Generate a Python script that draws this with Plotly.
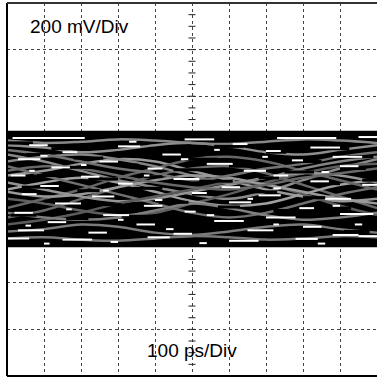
import plotly.graph_objects as go

# Axis: 10 div x 100 ps, 8 div x 200 mV
time_ticks_ps = [0, 100, 200, 300, 400, 500, 600, 700, 800, 900, 1000]
volt_ticks_mv = [-800, -600, -400, -200, 0, 200, 400, 600, 800]
center_ticks_mv = [-750, -700, -650, -600, -550, -500, -450, -400, -350, -300,
                   300, 350, 400, 450, 500, 550, 600, 650, 700, 750]

# Eye band envelope
band_x = [0, 1000, 1000, 0]
band_y = [252, 252, -248, -248]

# Gray waveform traces (mV at each 100 ps)
gray_1 = [150, 120, 80, 40, 10, -20, -40, -10, 40, 90, 130]
gray_2 = [-120, -90, -40, 10, 60, 90, 100, 70, 20, -30, -80]
gray_3 = [60, 80, 110, 130, 120, 80, 40, 0, -30, -50, -40]
gray_4 = [-40, -60, -90, -110, -100, -60, -20, 30, 70, 100, 110]
gray_5 = [190, 180, 160, 170, 190, 200, 185, 160, 150, 170, 190]
gray_6 = [-180, -170, -150, -160, -185, -195, -180, -160, -150, -170, -185]
gray_7 = [0, 30, 50, 30, -10, -50, -70, -60, -20, 20, 40]
gray_8 = [100, 60, 20, -20, -60, -100, -120, -100, -60, -20, 10]
gray_9 = [-80, -40, 0, 50, 90, 130, 140, 120, 80, 40, 0]
gray_10 = [210, 200, 205, 215, 210, 200, 195, 205, 215, 210, 200]
gray_11 = [-210, -205, -215, -220, -210, -200, -205, -215, -210, -200, -205]
gray_12 = [30, 0, -30, -50, -40, -10, 20, 50, 70, 60, 30]
gray_13 = [-150, -130, -100, -60, -30, 0, 30, 20, -20, -70, -110]
gray_14 = [120, 140, 150, 130, 100, 60, 30, 50, 90, 120, 140]
gray_15 = [-10, -30, -20, 10, 40, 60, 50, 20, -10, -40, -60]
gray_16 = [80, 100, 90, 60, 30, 10, 0, 20, 50, 70, 90]
gray_17 = [-100, -120, -130, -120, -90, -60, -80, -110, -130, -120, -100]
gray_18 = [170, 150, 120, 90, 70, 40, 60, 90, 110, 140, 160]
gray_traces = [gray_1, gray_2, gray_3, gray_4, gray_5, gray_6, gray_7, gray_8, gray_9,
               gray_10, gray_11, gray_12, gray_13, gray_14, gray_15, gray_16, gray_17, gray_18]
gray_colors = ["#8a8a8a", "#6a6a6a", "#999999", "#5e5e5e", "#8f8f8f", "#7a7a7a",
               "#a0a0a0", "#707070", "#666666", "#888888", "#777777", "#959595",
               "#5a5a5a", "#858585", "#9a9a9a", "#686868", "#7f7f7f", "#737373"]

# Black streaks breaking the gray traces (start ps, end ps, level mV)
black_x0 = [0, 120, 260, 400, 560, 700, 850, 50, 180, 330, 480, 620, 780, 920, 20, 150,
            300, 450, 600, 750, 900, 80, 220, 370, 520, 680, 830, 960, 40, 190, 340, 500,
            650, 800, 940, 100, 250, 410, 570, 720, 870, 10, 160, 310, 460, 610, 760, 910]
black_x1 = [70, 170, 350, 460, 640, 755, 925, 110, 260, 380, 570, 680, 850, 990, 85, 230,
            355, 540, 660, 830, 970, 140, 300, 420, 610, 735, 900, 1000, 110, 250, 420, 560,
            730, 860, 1000, 170, 310, 490, 630, 800, 930, 80, 220, 390, 520, 690, 820, 980]
black_y = [200, 175, 190, 170, 185, 160, 175, 150, 135, 145, 130, 150, 120, 140, 110, 95,
           105, 85, 100, 75, 90, 60, 45, 55, 35, 50, 25, 40, 10, -5, 5, -20,
           -10, -35, -25, -50, -65, -55, -75, -90, -80, -110, -125, -115, -140, -150, -165, -180]

# White streaks (start ps, end ps, level mV)
white_x0 = [15, 730, 480, 950, 60, 300, 610, 820, 150, 420, 700, 880, 30, 250, 540,
            770, 120, 380, 640, 900, 10, 200, 450, 720, 820, 90, 300, 580, 960, 40,
            230, 500, 680, 860, 130, 370, 600, 790, 20, 260, 480, 700, 900, 110, 350,
            560, 800, 30, 220, 450, 650, 880, 0, 150, 380, 600, 780, 950,
            330, 560, 90, 690, 200, 470, 850, 60, 260, 720, 400, 160, 880, 540, 300,
            720, 50, 430, 940, 280, 520, 840, 100, 650, 370]
white_x1 = [210, 890, 560, 1000, 110, 360, 650, 900, 190, 470, 740, 960, 90, 300, 610,
            800, 170, 420, 700, 950, 50, 250, 520, 760, 870, 140, 340, 630, 1000, 80,
            290, 540, 740, 930, 200, 420, 660, 830, 70, 330, 510, 780, 990, 160, 400,
            640, 850, 100, 270, 500, 720, 950, 60, 230, 440, 680, 840, 1000,
            350, 575, 110, 705, 215, 490, 870, 75, 275, 740, 420, 175, 900, 560, 315,
            735, 65, 450, 960, 300, 540, 860, 115, 665, 385]
white_y = [221, 221, 215, 225, 190, 185, 195, 180, 160, 150, 165, 140, 130, 120, 110,
           125, 95, 90, 80, 100, 60, 55, 45, 60, 35, 15, 25, 10, 20, -20,
           -30, -15, -25, -40, -60, -70, -55, -80, -100, -110, -95, -120, -105, -140, -150,
           -135, -160, -175, -185, -190, -175, -195, -210, -215, -205, -220, -212, -200,
           205, 170, 145, 140, 105, 130, 75, 80, -5, 5, -45, -85, -70, -110, -130,
           -150, -155, -170, -150, -225, -230, -232, -232, -40, 60]

fig = go.Figure()

# center graticule ticks
fig.add_trace(go.Scatter(
    x=[500] * len(center_ticks_mv), y=center_ticks_mv, mode="markers",
    marker=dict(symbol="line-ew", size=5, line=dict(width=1, color="#222")),
    hoverinfo="skip", showlegend=False))

# band background
fig.add_trace(go.Scatter(
    x=band_x, y=band_y, mode="lines", fill="toself", fillcolor="#000000",
    line=dict(width=0, color="#000000"), hoverinfo="skip", showlegend=False))

for g, c in zip(gray_traces, gray_colors):
    fig.add_trace(go.Scatter(
        x=time_ticks_ps, y=g, mode="lines",
        line=dict(color=c, width=2.5, shape="spline"),
        hoverinfo="skip", showlegend=False))

bx, by = [], []
for a, b, v in zip(black_x0, black_x1, black_y):
    bx += [a, b, None]
    by += [v, v, None]
fig.add_trace(go.Scatter(
    x=bx, y=by, mode="lines", line=dict(color="#000000", width=3),
    hoverinfo="skip", showlegend=False))

wx, wy = [], []
for a, b, v in zip(white_x0, white_x1, white_y):
    wx += [a, b, None]
    wy += [v, v, None]
fig.add_trace(go.Scatter(
    x=wx, y=wy, mode="lines", line=dict(color="#ffffff", width=2),
    hoverinfo="skip", showlegend=False))

fig.add_annotation(x=195, y=699, xref="x", yref="y", text="200 mV/Div",
                   showarrow=False, font=dict(family="Liberation Sans, Arial", size=19, color="#000"))
fig.add_annotation(x=500, y=-690, xref="x", yref="y", text="100 ps/Div",
                   showarrow=False, font=dict(family="Liberation Sans, Arial", size=19, color="#000"))

fig.update_layout(
    width=377, height=378,
    margin=dict(l=7, r=0, t=3, b=2),
    paper_bgcolor="white", plot_bgcolor="white",
    xaxis=dict(range=[0, 1000], tickvals=time_ticks_ps, showticklabels=False,
               showgrid=True, gridcolor="#444", griddash="dot", gridwidth=1,
               zeroline=False, showline=False, fixedrange=True),
    yaxis=dict(range=[-800, 800], tickvals=volt_ticks_mv, showticklabels=False,
               showgrid=True, gridcolor="#444", griddash="dot", gridwidth=1,
               zeroline=False, showline=False, fixedrange=True),
    shapes=[
        dict(type="line", xref="paper", yref="paper", x0=0, x1=0, y0=0, y1=1,
             line=dict(color="#000", width=2)),
        dict(type="line", xref="paper", yref="paper", x0=0, x1=1, y0=1, y1=1,
             line=dict(color="#333", width=2)),
        dict(type="line", xref="paper", yref="paper", x0=0, x1=1, y0=0, y1=0,
             line=dict(color="#000", width=2)),
    ],
)

fig.write_html("out.html", config={"displayModeBar": False},
               post_script="document.body.style.margin='0';")
